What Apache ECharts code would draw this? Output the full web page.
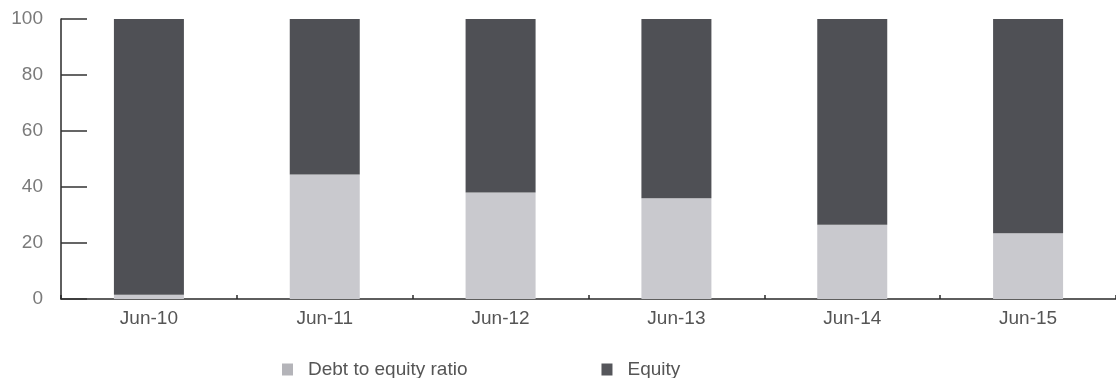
<!DOCTYPE html>
<html>
<head>
<meta charset="utf-8">
<style>
  html, body { margin: 0; padding: 0; background: #ffffff; }
  #chart { width: 1116px; height: 378px; }
</style>
<script src="https://cdn.jsdelivr.net/npm/echarts@6/dist/echarts.min.js"></script>
</head>
<body>
<div id="chart"></div>
<script>
// Capital structure by financial year end (percent of total)
const categories = ['Jun-10', 'Jun-11', 'Jun-12', 'Jun-13', 'Jun-14', 'Jun-15'];
const debtToEquity = [1.5, 44.5, 38, 36, 26.5, 23.5];
const equity = [98.5, 55.5, 62, 64, 73.5, 76.5];
const yTicks = [0, 20, 40, 60, 80, 100];
const seriesNames = ['Debt to equity ratio', 'Equity'];

const FONT = '"Liberation Sans", Arial, sans-serif';
const LIGHT = '#c9c9ce';
const DARK = '#4f5055';

const chart = echarts.init(document.getElementById('chart'), null, { renderer: 'canvas' });

chart.setOption({
  animation: false,
  backgroundColor: '#ffffff',
  grid: { left: 61, top: 19, bottom: 79, width: 1060, containLabel: false },
  legend: {
    left: 277,
    top: 355,
    itemWidth: 11,
    itemHeight: 12,
    itemGap: 134,
    icon: 'rect',
    textStyle: { fontFamily: FONT, fontSize: 19, color: '#555', padding: [0, 0, 0, 10] },
    data: [
      { name: seriesNames[0], itemStyle: { color: '#b4b4b9' } },
      { name: seriesNames[1], itemStyle: { color: '#55565b' } }
    ]
  },
  xAxis: {
    type: 'category',
    data: categories,
    boundaryGap: true,
    axisLine: { show: true, lineStyle: { color: '#2a2a2a', width: 1.5 } },
    axisTick: { show: true, inside: true, length: 4, lineStyle: { color: '#2a2a2a', width: 1.5 } },
    axisLabel: { margin: 10, fontFamily: FONT, fontSize: 19, color: '#555' },
    splitLine: { show: false }
  },
  yAxis: {
    type: 'value',
    min: yTicks[0],
    max: yTicks[yTicks.length - 1],
    interval: yTicks[1] - yTicks[0],
    axisLine: { show: true, lineStyle: { color: '#2a2a2a', width: 1.5 } },
    axisTick: { show: true, inside: true, length: 26, lineStyle: { color: '#333', width: 1.5 } },
    axisLabel: { margin: 18, fontFamily: FONT, fontSize: 19, color: '#7a7a7a' },
    splitLine: { show: false }
  },
  series: [
    {
      name: seriesNames[0],
      type: 'bar',
      stack: 'total',
      barWidth: 70,
      data: debtToEquity,
      itemStyle: { color: LIGHT }
    },
    {
      name: seriesNames[1],
      type: 'bar',
      stack: 'total',
      barWidth: 70,
      data: equity,
      itemStyle: { color: DARK }
    }
  ]
});
</script>
</body>
</html>
